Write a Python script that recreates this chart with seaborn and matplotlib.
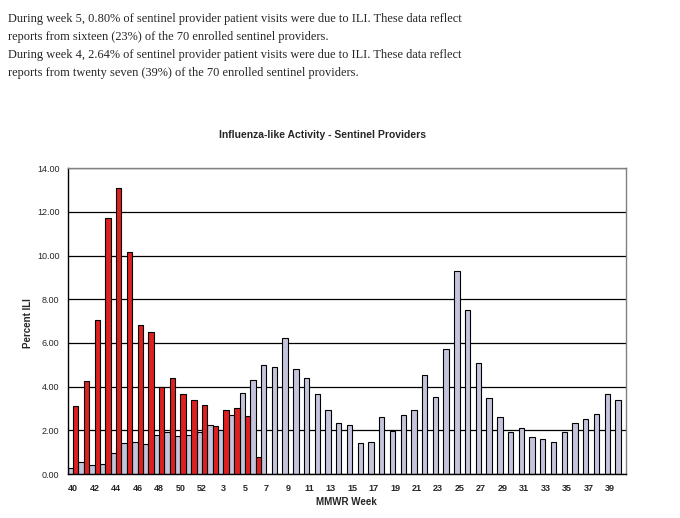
import seaborn as sns
import pandas as pd
import matplotlib.pyplot as plt

# previous season, one value per week slot (52 slots)
prev_season = [0.26, 0.54, 0.41, 0.46, 0.95, 1.40, 1.48, 1.36, 1.77, 1.91,
               1.73, 1.77, 1.91, 2.23, 2.00, 2.69, 3.69, 4.29, 4.98, 4.89,
               6.21, 4.79, 4.38, 3.65, 2.92, 2.32, 2.23, 1.40, 1.45, 2.60,
               1.98, 2.69, 2.92, 4.52, 3.51, 5.71, 9.28, 7.49, 5.07, 3.47,
               2.60, 1.91, 2.09, 1.68, 1.59, 1.45, 1.91, 2.32, 2.50, 2.73,
               3.65, 3.37]

# current season, week 40 to week 5
curr_season = [3.13, 4.24, 7.07, 11.71, 13.08, 10.15, 6.81, 6.49, 4.00, 4.38,
               3.65, 3.39, 3.14, 2.18, 2.91, 3.01, 2.64, 0.80]

# tick labels as printed under every second slot
tick_labels = ['40', '42', '44', '46', '48', '50', '52', '3', '5', '7', '9',
               '11', '13', '15', '17', '19', '21', '23', '25', '27', '29',
               '31', '33', '35', '37', '39']

header_lines = [
    "During week 5, 0.80% of sentinel provider patient visits were due to ILI. These data reflect",
    "reports from sixteen (23%) of the 70 enrolled sentinel providers.",
    "During week 4, 2.64% of sentinel provider patient visits were due to ILI. These data reflect",
    "reports from twenty seven (39%) of the 70 enrolled sentinel providers.",
]

slots = list(range(len(prev_season)))
df = pd.concat([
    pd.DataFrame({'slot': slots, 'pct': prev_season, 'season': 'prev'}),
    pd.DataFrame({'slot': slots[:len(curr_season)], 'pct': curr_season, 'season': 'curr'}),
])

sns.set_style('white')
plt.rcParams['font.family'] = ['Liberation Sans', 'DejaVu Sans']

fig = plt.figure(figsize=(6.8, 5.18), dpi=100)
ax = fig.add_axes([0.0996, 0.0849, 0.8210, 0.5902])

sns.barplot(df, x='slot', y='pct', hue='season', hue_order=['prev', 'curr'],
            order=slots, palette={'prev': '#c0c0e0', 'curr': '#ff0000'},
            width=1.0, gap=0, edgecolor='black', linewidth=0.8,
            legend=False, ax=ax)

#axes limits and grid
ax.set_xlim(-0.5, len(slots) - 0.5)
ax.set_ylim(0, 14)
ax.set_yticks([0, 2, 4, 6, 8, 10, 12, 14])
ax.set_yticklabels(['%.2f' % v for v in [0, 2, 4, 6, 8, 10, 12, 14]], fontsize=6.5)
ax.set_axisbelow(True)
ax.yaxis.grid(True, color='black', linewidth=0.9)
ax.xaxis.grid(False)

#x ticks: labels on every second slot, marks at slot edges
ax.set_xticks(slots[::2])
ax.set_xticklabels(tick_labels, fontsize=6.5, fontweight='bold')
ax.set_xticks([s + 0.5 for s in slots], minor=True)
ax.tick_params(axis='x', which='major', length=0, pad=7)
ax.tick_params(axis='x', which='minor', length=4, width=0.8, color='black', direction='out')
ax.tick_params(axis='y', length=4, width=0.8, color='black', direction='out', pad=2)

for side in ['left', 'bottom']:
    ax.spines[side].set_color('black')
    ax.spines[side].set_linewidth(1.0)
for side in ['top', 'right']:
    ax.spines[side].set_color('#808080')
    ax.spines[side].set_linewidth(1.0)

ax.set_xlabel('')
ax.set_ylabel('')
fig.text(0.041, 1 - 323 / 518, 'Percent ILI', rotation=90, fontsize=7, fontweight='bold',
         ha='center', va='center')
fig.text(0.510, 1 - 502 / 518, 'MMWR Week', fontsize=7, fontweight='bold',
         ha='center', va='center')
fig.text(0.474, 1 - 135 / 518, 'Influenza-like Activity - Sentinel Providers',
         fontsize=7.5, fontweight='bold', ha='center', va='center')

#report text above the chart
for i, line in enumerate(header_lines):
    fig.text(8 / 680, 1 - (22 + 18 * i) / 518, line, fontsize=8.9,
             family='Liberation Serif', ha='left', va='baseline')

fig.savefig('out.png', dpi=100)
